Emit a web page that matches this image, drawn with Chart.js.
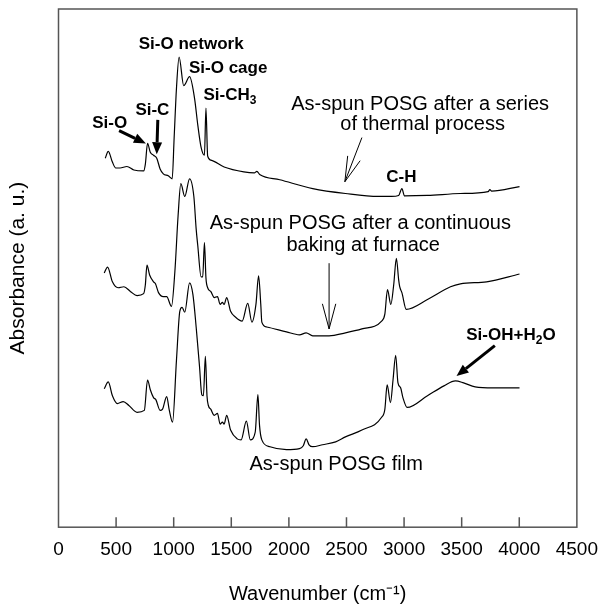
<!DOCTYPE html>
<html>
<head>
<meta charset="utf-8">
<title>FTIR spectra of POSG films</title>
<script src="https://cdn.jsdelivr.net/npm/chart.js@4.4.0/dist/chart.umd.min.js"></script>
<style>
    html, body { margin: 0; padding: 0; background: #fff; }
    #wrap { width: 609px; height: 609px; }
</style>
</head>
<body>
<div id="wrap"><canvas id="ftirChart"></canvas></div>
<script>
// Axis ticks (cm-1)
const xTicks = [0, 500, 1000, 1500, 2000, 2500, 3000, 3500, 4000, 4500];

// As-spun POSG after a series of thermal process (top trace)
const thermalWn = [406, 432, 468, 497, 534, 594, 654, 739, 754, 773, 797, 825, 853, 882, 910, 953, 987, 1004, 1024, 1047,
    1087, 1138, 1181, 1209, 1238, 1267, 1280, 1295, 1323, 1438, 1609, 1700, 1722, 1750, 1921, 2207, 2491, 2776, 2891,
    2953, 2981, 3004, 3203, 3489, 3730, 3745, 3760, 4002];
const thermalAbs = [376, 383, 372, 366, 366, 367.5, 364, 363, 370, 391, 382, 379, 376, 365, 360, 358, 355, 397, 447, 479,
    450, 459, 437, 410, 387, 379, 427, 378, 374, 367, 362, 361, 362.5, 359, 354, 345, 340, 337, 337,
    338, 345, 337.5, 338, 340, 342, 344, 342.5, 347];

// As-spun POSG after a continuous baking at furnace (middle trace)
const furnaceWn = [397, 426, 468, 517, 568, 626, 682, 739, 754, 768, 791, 825, 842, 868, 910, 939, 981, 1010, 1038, 1062,
    1096, 1138, 1175, 1195, 1209, 1238, 1252, 1267, 1280, 1295, 1323, 1352, 1380, 1403, 1423, 1438, 1460, 1494, 1537,
    1594, 1643, 1679, 1714, 1737, 1756, 1765, 1808, 1979, 2092, 2150, 2207, 2349, 2491, 2634, 2805, 2833, 2856, 2885,
    2910, 2933, 2953, 2962, 2981, 3019, 3203, 3403, 3489, 3716, 4002];
const furnaceAbs = [259, 265, 250, 244, 245, 240, 236, 238, 247, 267, 257, 250, 248, 239, 235, 235, 225, 260, 317, 350,
    337, 355, 337, 304, 287, 255, 255, 290, 254, 244, 240, 234, 235, 227, 229, 227, 234, 220, 214,
    210, 228, 209, 227, 256, 227, 209, 204, 199, 196, 198, 195, 195, 198, 202, 210, 217, 242, 227,
    247, 274, 252, 245, 239, 222, 232, 245, 248, 250, 258];

// As-spun POSG film (bottom trace)
const filmWn = [397, 432, 468, 511, 562, 611, 682, 745, 773, 797, 825, 845, 882, 902, 939, 962, 990, 1024, 1053, 1073,
    1096, 1138, 1167, 1195, 1224, 1244, 1258, 1275, 1289, 1301, 1323, 1352, 1380, 1403, 1423, 1438, 1460, 1494, 1551,
    1585, 1631, 1665, 1708, 1731, 1745, 1765, 1836, 1979, 2092, 2125, 2150, 2175, 2207, 2292, 2406, 2491, 2634, 2805,
    2833, 2853, 2882, 2904, 2927, 2947, 2970, 2990, 3027, 3203, 3346, 3446, 3517, 3617, 3773, 4002];
const filmAbs = [141, 148, 134, 126, 128, 124, 117, 119, 150, 140, 132, 130, 119, 120, 133, 119, 107, 170, 220, 224,
    219, 249, 237, 204, 164, 135, 134, 174, 134, 124, 120, 114, 116, 105, 107, 105, 114, 99, 90,
    89, 108, 89, 97, 135, 104, 89, 82, 79, 80, 83, 90, 84, 82, 84, 87, 92, 99, 112,
    120, 145, 127, 150, 175, 147, 142, 132, 122, 134, 144, 149, 147, 143, 142, 142];

const FONT = '"Liberation Sans", Arial, Helvetica, sans-serif';

// Band labels and captions, placed in data coordinates
const labels = [
    { parts: [{ t: 'Si-O network' }], x: 1152, y: 492, bold: true, align: 'center' },
    { parts: [{ t: 'Si-O cage' }], x: 1473, y: 468, bold: true, align: 'center' },
    { parts: [{ t: 'Si-CH' }, { t: '3', sub: true }], x: 1258, y: 440, bold: true, align: 'left' },
    { parts: [{ t: 'Si-C' }], x: 815, y: 425, bold: true, align: 'center' },
    { parts: [{ t: 'Si-O' }], x: 444, y: 412, bold: true, align: 'center' },
    { parts: [{ t: 'C-H' }], x: 2976, y: 357, bold: true, align: 'center' },
    { parts: [{ t: 'Si-OH+H' }, { t: '2', sub: true }, { t: 'O' }], x: 3540, y: 196, bold: true, align: 'left' },
    { parts: [{ t: 'As-spun POSG after a series' }], x: 3139, y: 431, align: 'center' },
    { parts: [{ t: 'of thermal process' }], x: 3161, y: 410, align: 'center' },
    { parts: [{ t: 'As-spun POSG after a continuous' }], x: 2620, y: 309, align: 'center' },
    { parts: [{ t: 'baking at furnace' }], x: 2645, y: 287, align: 'center' },
    { parts: [{ t: 'As-spun POSG film' }], x: 2410, y: 64, align: 'center' }
];

const arrows = [
    { from: [526, 404], to: [759, 391], solid: true },
    { from: [862, 415], to: [853, 380], solid: true },
    { from: [3788, 185], to: [3455, 154], solid: true },
    { from: [2634, 397], to: [2486, 352], solid: false },
    { from: [2349, 269], to: [2349, 202], solid: false }
];

function toPoints(xs, ys) {
    return xs.map((x, i) => ({ x: x, y: ys[i] }));
}

function drawRich(ctx, item, px, py) {
    const size = item.bold ? 17 : 20;
    const weight = item.bold ? 'bold ' : '';
    const subSize = Math.round(size * 0.7);
    let total = 0;
    item.parts.forEach(p => {
        ctx.font = weight + (p.sub ? subSize : size) + 'px ' + FONT;
        total += ctx.measureText(p.t).width;
    });
    let x = item.align === 'center' ? px - total / 2 : px;
    ctx.textAlign = 'left';
    ctx.textBaseline = 'middle';
    item.parts.forEach(p => {
        ctx.font = weight + (p.sub ? subSize : size) + 'px ' + FONT;
        ctx.fillText(p.t, x, p.sub ? py + size * 0.32 : py);
        x += ctx.measureText(p.t).width;
    });
}

function drawArrow(ctx, x1, y1, x2, y2, solid) {
    const ang = Math.atan2(y2 - y1, x2 - x1);
    ctx.strokeStyle = '#000';
    ctx.fillStyle = '#000';
    if (solid) {
        const head = 12, half = 5;
        ctx.lineWidth = 3;
        ctx.beginPath();
        ctx.moveTo(x1, y1);
        ctx.lineTo(x2 - head * Math.cos(ang), y2 - head * Math.sin(ang));
        ctx.stroke();
        ctx.beginPath();
        ctx.moveTo(x2, y2);
        ctx.lineTo(x2 - head * Math.cos(ang) + half * Math.sin(ang), y2 - head * Math.sin(ang) - half * Math.cos(ang));
        ctx.lineTo(x2 - head * Math.cos(ang) - half * Math.sin(ang), y2 - head * Math.sin(ang) + half * Math.cos(ang));
        ctx.closePath();
        ctx.fill();
    } else {
        const wing = 26, spread = 0.26;
        ctx.lineWidth = 1;
        ctx.beginPath();
        ctx.moveTo(x1, y1);
        ctx.lineTo(x2, y2);
        ctx.moveTo(x2 - wing * Math.cos(ang - spread), y2 - wing * Math.sin(ang - spread));
        ctx.lineTo(x2, y2);
        ctx.lineTo(x2 - wing * Math.cos(ang + spread), y2 - wing * Math.sin(ang + spread));
        ctx.stroke();
    }
}

// Frame, inward ticks, labels and arrows
const decorPlugin = {
    id: 'decor',
    afterDatasetsDraw(chart) {
        const { ctx, chartArea: a, scales: { x, y } } = chart;
        ctx.save();
        ctx.strokeStyle = '#555';
        ctx.lineWidth = 1.5;
        ctx.strokeRect(a.left, a.top, a.right - a.left, a.bottom - a.top);
        ctx.beginPath();
        xTicks.slice(1, -1).forEach(v => {
            const px = x.getPixelForValue(v);
            ctx.moveTo(px, a.bottom);
            ctx.lineTo(px, a.bottom - 10);
        });
        ctx.stroke();

        ctx.fillStyle = '#000';
        labels.forEach(item => drawRich(ctx, item, x.getPixelForValue(item.x), y.getPixelForValue(item.y)));
        arrows.forEach(ar => drawArrow(ctx,
            x.getPixelForValue(ar.from[0]), y.getPixelForValue(ar.from[1]),
            x.getPixelForValue(ar.to[0]), y.getPixelForValue(ar.to[1]), ar.solid));
        ctx.restore();
    }
};

function lineSet(label, xs, ys) {
    return {
        label: label,
        data: toPoints(xs, ys),
        borderColor: '#000',
        borderWidth: 1.2,
        pointRadius: 0,
        fill: false,
        cubicInterpolationMode: 'monotone'
    };
}

const ctx = document.getElementById('ftirChart').getContext('2d');
const ftirChart = new Chart(ctx, {
    type: 'line',
    data: {
        datasets: [
            lineSet('After a series of thermal process', thermalWn, thermalAbs),
            lineSet('After a continuous baking at furnace', furnaceWn, furnaceAbs),
            lineSet('As-spun POSG film', filmWn, filmAbs)
        ]
    },
    options: {
        responsive: true,
        maintainAspectRatio: false,
        animation: false,
        layout: { padding: { top: 9, right: 24, bottom: 0, left: 0 } },
        plugins: {
            legend: { display: false },
            tooltip: { enabled: false }
        },
        scales: {
            x: {
                type: 'linear',
                min: 0,
                max: 4500,
                afterBuildTicks: s => { s.ticks = xTicks.map(v => ({ value: v })); },
                ticks: {
                    color: '#000',
                    padding: 11,
                    maxRotation: 0,
                    font: { family: FONT, size: 19 },
                    callback: v => String(v)
                },
                grid: { display: false, drawTicks: false },
                border: { display: false },
                title: {
                    display: true,
                    text: 'Wavenumber (cm⁻¹)',
                    color: '#000',
                    font: { family: FONT, size: 20 },
                    padding: { top: 10, bottom: 3 }
                }
            },
            y: {
                min: 0,
                max: 528,
                ticks: { display: false },
                grid: { display: false, drawTicks: false },
                border: { display: false },
                title: {
                    display: true,
                    text: 'Absorbance (a. u.)',
                    color: '#000',
                    font: { family: FONT, size: 21 },
                    padding: { top: 5.4, bottom: 27.9 }
                }
            }
        }
    },
    plugins: [decorPlugin]
});
</script>
</body>
</html>
